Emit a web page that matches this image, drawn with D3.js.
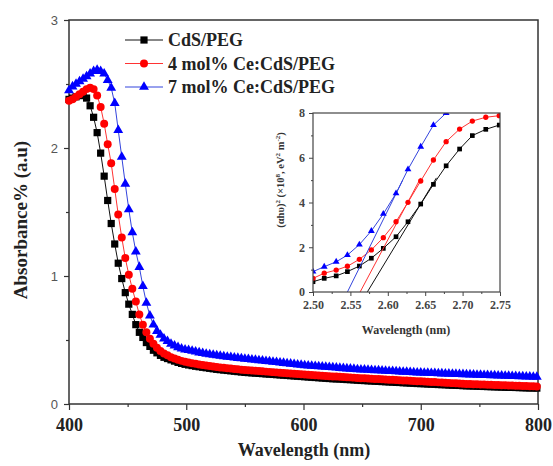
<!DOCTYPE html>
<html>
<head>
<meta charset="utf-8">
<script src="https://cdn.jsdelivr.net/npm/d3@7"></script>
<style>
  body { margin: 0; background: #fff; }
  text { font-family: "Liberation Serif", "Times New Roman", serif; }
</style>
</head>
<body>
<svg width="553" height="466"></svg>
<script>
// Main spectra: wavelength (nm) and absorbance for each sample
const wavelengths = [
  400,403,406,409,412,415,418,421,424,427,430,433,436,439,442,445,448,451,454,457,460,463,466,469,472,475,478,481,484,487,490,493,496,499,
  502,505,508,511,514,517,520,523,526,529,532,535,538,541,544,547,550,
  553,556,559,562,565,568,571,574,577,580,583,586,589,592,595,598,
  601,604,607,610,613,616,619,622,625,628,631,634,637,640,643,646,649,
  652,655,658,661,664,667,670,673,676,679,682,685,688,691,694,697,700,
  703,706,709,712,715,718,721,724,727,730,733,736,739,742,745,748,751,
  754,757,760,763,766,769,772,775,778,781,784,787,790,793,796,799
];
const cdsPeg = [
  2.38,2.39,2.40,2.41,2.41,2.39,2.33,2.24,2.12,1.96,1.78,1.59,1.41,1.25,1.10,0.98,0.87,0.78,0.70,0.62,0.56,0.52,0.48,0.45,0.42,0.40,0.38,0.365,0.355,0.345,0.335,0.325,0.317,0.31,
  .305,.300,.295,.291,.287,.283,.279,.275,.271,.268,.265,.262,.259,.256,.253,.250,.247,
  .245,.243,.241,.239,.237,.235,.233,.231,.229,.227,.225,.223,.221,.219,.217,.215,
  .213,.211,.209,.207,.205,.203,.201,.199,.197,.196,.195,.193,.191,.190,.188,.186,.184,
  .183,.181,.180,.178,.177,.175,.174,.172,.171,.169,.168,.166,.165,.163,.162,.160,.159,
  .158,.156,.155,.154,.152,.151,.150,.148,.147,.146,.145,.143,.142,.141,.140,.139,.138,
  .137,.136,.135,.134,.133,.132,.131,.130,.130,.129,.128,.127,.126,.125,.125,.124
];
const ce4Peg = [
  2.37,2.38,2.40,2.42,2.44,2.46,2.47,2.46,2.41,2.32,2.19,2.03,1.88,1.68,1.48,1.30,1.14,1.01,0.90,0.80,0.70,0.62,0.56,0.51,0.47,0.44,0.415,0.395,0.38,0.365,0.355,0.345,0.337,0.33,
  .325,.319,.314,.309,.305,.301,.297,.293,.289,.286,.283,.280,.277,.274,.271,.268,.265,
  .263,.261,.259,.257,.255,.253,.251,.249,.247,.245,.243,.241,.239,.237,.235,.233,
  .231,.229,.227,.225,.223,.221,.219,.217,.215,.214,.213,.211,.209,.208,.206,.204,.202,
  .201,.199,.198,.196,.195,.193,.192,.190,.189,.187,.186,.184,.183,.181,.180,.178,.177,
  .175,.174,.172,.171,.169,.168,.166,.165,.163,.162,.160,.159,.157,.156,.155,.154,.153,
  .152,.151,.150,.149,.148,.147,.146,.145,.144,.143,.142,.141,.140,.139,.138,.137
];
const ce7Peg = [
  2.45,2.48,2.50,2.52,2.54,2.56,2.58,2.60,2.61,2.60,2.58,2.53,2.47,2.35,2.14,1.93,1.72,1.52,1.34,1.19,1.07,0.92,0.79,0.69,0.62,0.57,0.54,0.51,0.49,0.47,0.455,0.443,0.432,0.425,
  .420,.414,.408,.402,.397,.392,.387,.383,.379,.375,.371,.368,.365,.362,.359,.356,.353,
  .350,.347,.344,.341,.338,.335,.332,.329,.326,.323,.320,.317,.314,.311,.308,.305,
  .302,.299,.297,.295,.293,.291,.289,.287,.285,.283,.281,.279,.277,.275,.273,.271,.269,
  .268,.266,.265,.263,.262,.260,.259,.257,.256,.254,.253,.251,.250,.248,.247,.245,.244,
  .243,.242,.241,.240,.239,.238,.237,.236,.235,.234,.233,.232,.231,.230,.229,.228,.227,
  .226,.225,.224,.223,.222,.221,.220,.219,.218,.217,.216,.215,.214,.213,.212,.211
];
const seriesNames = ["CdS/PEG", "4 mol% Ce:CdS/PEG", "7 mol% Ce:CdS/PEG"];
const xTicks = [400, 500, 600, 700, 800];
const xMinor = [450, 550, 650, 750];
const yTicks = [0, 1, 2, 3];
const yMinor = [0.5, 1.5, 2.5];

// Inset: Tauc plot
const insetEnergy = [2.500,2.515,2.531,2.546,2.562,2.578,2.594,2.611,2.627,2.644,2.661,2.678,2.696,2.713,2.731,2.749];
const insetCds = [0.46,0.61,0.72,0.91,1.16,1.51,1.95,2.47,3.14,3.93,4.81,5.64,6.39,6.99,7.27,7.46];
const insetCe4 = [0.61,0.84,0.98,1.15,1.46,1.88,2.43,3.14,4.01,4.96,5.90,6.72,7.28,7.64,7.81,7.88];
const insetCe7 = [0.91,1.13,1.35,1.65,2.12,2.73,3.49,4.41,5.48,6.49,7.46,8.00];
// linear fits: [E start, value start, E end, value end]
const fitCds = [2.5726, 0, 2.665, 5.1];
const fitCe4 = [2.563, 0, 2.644, 5.1];
const fitCe7 = [2.546, 0, 2.620, 5.0];
const insetXTicks = [2.50, 2.55, 2.60, 2.65, 2.70, 2.75];
const insetXMinor = [2.525, 2.575, 2.625, 2.675, 2.725];
const insetYTicks = [0, 2, 4, 6, 8];
const insetYMinor = [1, 3, 5, 7];

const svg = d3.select("svg");
const x = d3.scaleLinear().domain([400, 800]).range([69, 538]);
const y = d3.scaleLinear().domain([0, 3]).range([404, 20]);

const styles = [
  { color: "#000", line: "#111", shape: d3.symbolSquare, size: 52, inSize: 22 },
  { color: "#f00", line: "#f33", shape: d3.symbolCircle, size: 50, inSize: 22 },
  { color: "#0000ff", line: "#3344dd", shape: d3.symbolTriangle, size: 42, inSize: 20 }
];

const series = [cdsPeg, ce4Peg, ce7Peg].map((vals, i) => ({
  name: seriesNames[i],
  style: styles[i],
  points: wavelengths.map((w, j) => ({ x: w, y: vals[j] }))
}));

// Axes
const gx = svg.append("g").attr("transform", "translate(0,404)")
  .call(d3.axisBottom(x).tickValues(xTicks).tickSize(6).tickFormat(d3.format("d")));
gx.select(".domain").remove();
gx.selectAll("text").attr("y", 14).style("font-family", "Liberation Serif, serif")
  .style("font-size", "18px").style("font-weight", "bold").attr("fill", "#222");
svg.append("g").attr("transform", "translate(0,404)")
  .call(d3.axisBottom(x).tickValues(xMinor).tickSize(3).tickFormat(""))
  .select(".domain").remove();

const gy = svg.append("g").attr("transform", "translate(69,0)")
  .call(d3.axisLeft(y).tickValues(yTicks).tickSize(5).tickPadding(6).tickFormat(d3.format("d")));
gy.select(".domain").remove();
gy.selectAll("text").style("font-family", "Liberation Sans, Arial, sans-serif")
  .style("font-size", "13px").attr("fill", "#555");
svg.append("g").attr("transform", "translate(69,0)")
  .call(d3.axisLeft(y).tickValues(yMinor).tickSize(3).tickFormat(""))
  .select(".domain").remove();
svg.selectAll(".tick line").attr("stroke", "#333").attr("stroke-width", 1.2);

svg.append("rect").attr("x", 69).attr("y", 20).attr("width", 469).attr("height", 384)
  .attr("fill", "none").attr("stroke", "#333").attr("stroke-width", 1.5);

// Series
const line = d3.line().x(d => x(d.x)).y(d => y(d.y));
series.forEach(s => {
  svg.append("path").datum(s.points).attr("d", line)
    .attr("fill", "none").attr("stroke", s.style.line).attr("stroke-width", 1);
  svg.append("g").selectAll("path").data(s.points).join("path")
    .attr("transform", d => `translate(${x(d.x)},${y(d.y)})`)
    .attr("d", d3.symbol(s.style.shape, s.style.size))
    .attr("fill", s.style.color);
});

// Legend
const legend = svg.append("g");
series.forEach((s, i) => {
  const ly = 40 + i * 23.5;
  legend.append("line").attr("x1", 125).attr("x2", 163).attr("y1", ly).attr("y2", ly)
    .attr("stroke", s.style.line).attr("stroke-width", 1);
  legend.append("path").attr("transform", `translate(144,${ly})`)
    .attr("d", d3.symbol(s.style.shape, s.style.size)).attr("fill", s.style.color);
  legend.append("text").attr("x", 168).attr("y", ly + 6).text(s.name)
    .style("font-size", "18px").style("font-weight", "bold").attr("fill", "#222");
});

// Axis titles
svg.append("text").attr("x", 304).attr("y", 456).attr("text-anchor", "middle")
  .style("font-size", "18px").style("font-weight", "bold").attr("fill", "#222")
  .text("Wavelength (nm)");
svg.append("text").attr("transform", "translate(27,220) rotate(-90)").attr("text-anchor", "middle")
  .style("font-size", "19px").style("font-weight", "bold").attr("fill", "#222")
  .text("Absorbance% (a.u)");

// Inset
const xi = d3.scaleLinear().domain([2.5, 2.75]).range([313, 500]);
const yi = d3.scaleLinear().domain([0, 8]).range([292, 113]);
const inset = svg.append("g");

const gxi = inset.append("g").attr("transform", "translate(0,292)")
  .call(d3.axisBottom(xi).tickValues(insetXTicks).tickSize(4).tickPadding(4).tickFormat(d3.format(".2f")));
const gxm = inset.append("g").attr("transform", "translate(0,292)")
  .call(d3.axisBottom(xi).tickValues(insetXMinor).tickSize(2).tickFormat(""));
const gyi = inset.append("g").attr("transform", "translate(313,0)")
  .call(d3.axisLeft(yi).tickValues(insetYTicks).tickSize(4).tickPadding(4).tickFormat(d3.format("d")));
const gym = inset.append("g").attr("transform", "translate(313,0)")
  .call(d3.axisLeft(yi).tickValues(insetYMinor).tickSize(2).tickFormat(""));
[gxi, gxm, gyi, gym].forEach(g => g.select(".domain").remove());
inset.selectAll(".tick line").attr("stroke", "#444");
inset.selectAll(".tick text").style("font-family", "Liberation Serif, serif")
  .style("font-size", "12px").style("font-weight", "bold").attr("fill", "#444");

svg.append("clipPath").attr("id", "insetClip").append("rect")
  .attr("x", 313).attr("y", 113).attr("width", 187).attr("height", 179);

const insetSeries = [insetCds, insetCe4, insetCe7].map((vals, i) => ({
  style: styles[i],
  points: vals.map((v, j) => ({ x: insetEnergy[j], y: v }))
}));
const fits = [fitCds, fitCe4, fitCe7];
const lineI = d3.line().x(d => xi(d.x)).y(d => yi(d.y));
const plotI = inset.append("g").attr("clip-path", "url(#insetClip)");
insetSeries.forEach((s, i) => {
  const f = fits[i];
  plotI.append("path").datum([{ x: f[0], y: f[1] }, { x: f[2], y: f[3] }]).attr("d", lineI)
    .attr("fill", "none").attr("stroke", s.style.line).attr("stroke-width", 1);
  plotI.append("path").datum(s.points).attr("d", lineI)
    .attr("fill", "none").attr("stroke", s.style.line).attr("stroke-width", 1);
  plotI.append("g").selectAll("path").data(s.points).join("path")
    .attr("transform", d => `translate(${xi(d.x)},${yi(d.y)})`)
    .attr("d", d3.symbol(s.style.shape, s.style.inSize))
    .attr("fill", s.style.color);
});

inset.append("rect").attr("x", 313).attr("y", 113).attr("width", 187).attr("height", 179)
  .attr("fill", "none").attr("stroke", "#444").attr("stroke-width", 1.2);

inset.append("text").attr("x", 406).attr("y", 334).attr("text-anchor", "middle")
  .style("font-size", "12px").style("font-weight", "bold").attr("fill", "#333")
  .text("Wavelength (nm)");

const yt = inset.append("text").attr("transform", "translate(284,180) rotate(-90)")
  .attr("text-anchor", "middle").style("font-size", "10.5px").style("font-weight", "bold").attr("fill", "#333");
yt.append("tspan").text("(αhυ)");
yt.append("tspan").attr("baseline-shift", "super").style("font-size", "7px").text("2");
yt.append("tspan").text(" (×10");
yt.append("tspan").attr("baseline-shift", "super").style("font-size", "7px").text("8");
yt.append("tspan").text(", eV");
yt.append("tspan").attr("baseline-shift", "super").style("font-size", "7px").text("2");
yt.append("tspan").text(" m");
yt.append("tspan").attr("baseline-shift", "super").style("font-size", "7px").text("-2");
yt.append("tspan").text(")");
</script>
</body>
</html>
